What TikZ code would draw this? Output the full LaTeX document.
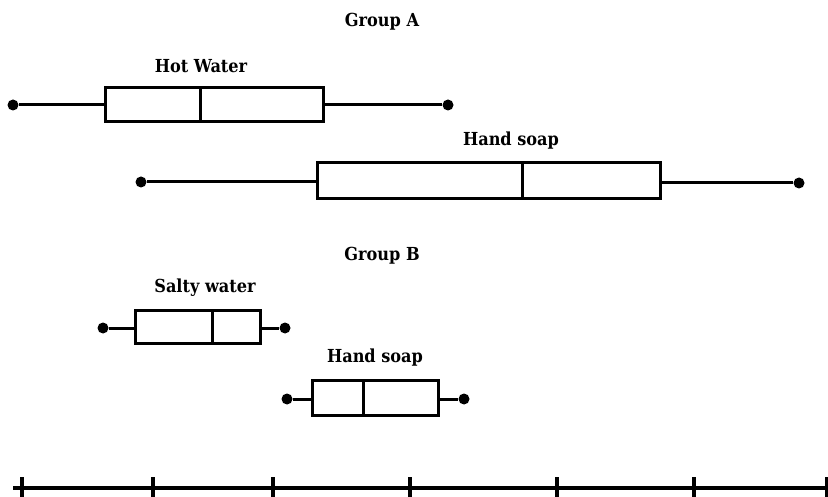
\documentclass[tikz,border=0pt]{standalone}
\usepackage{fontspec}
\setmainfont{DejaVu Serif Condensed}
\begin{document}
\begin{tikzpicture}[x=1bp,y=-1bp,
  lbl/.style={font=\bfseries\fontsize{18}{20}\selectfont, inner sep=0pt},
  bx/.style={draw=black, line width=3bp, fill=white},
  wh/.style={line width=3bp},
  dot/.style={circle, fill=black, inner sep=0pt, minimum size=11bp},
  ax/.style={line width=3.4bp}]
\useasboundingbox (0,0) rectangle (828,497);
% titles
\node[lbl] (ga) at (382,22) {Group A};
\node[lbl] (gb) at (382,256) {Group B};
% Hot Water
\node[lbl] (hwl) at (201,66) {Hot Water};
\node[dot] (hw1) at (13,105) {};
\node[dot] (hw5) at (448,105) {};
\coordinate (hw2) at (105,105);
\coordinate (hw4) at (323,105);
\draw[wh] (hw1) -- (hw2);
\draw[wh] (hw4) -- (hw5);
\draw[bx] (105,88) rectangle (323,122);
\draw[wh] (200,88) -- (200,122);
% Hand soap A
\node[lbl] (hal) at (511,141) {Hand soap};
\node[dot] (ha1) at (141,182) {};
\node[dot] (ha5) at (799,183) {};
\coordinate (ha2) at (317,182);
\coordinate (ha4) at (660,183);
\draw[wh] (ha1) -- (ha2);
\draw[wh] (ha4) -- (ha5);
\draw[bx] (317,163) rectangle (660,199);
\draw[wh] (522,163) -- (522,199);
% Salty water
\node[lbl] (swl) at (205,288) {Salty water};
\node[dot] (sw1) at (103,328) {};
\node[dot] (sw5) at (285,328) {};
\coordinate (sw2) at (135,328);
\coordinate (sw4) at (260,328);
\draw[wh] (sw1) -- (sw2);
\draw[wh] (sw4) -- (sw5);
\draw[bx] (135,310) rectangle (260,343);
\draw[wh] (212,310) -- (212,343);
% Hand soap B
\node[lbl] (hbl) at (375,358) {Hand soap};
\node[dot] (hb1) at (287,399) {};
\node[dot] (hb5) at (464,399) {};
\coordinate (hb2) at (312,399);
\coordinate (hb4) at (438,399);
\draw[wh] (hb1) -- (hb2);
\draw[wh] (hb4) -- (hb5);
\draw[bx] (312,380) rectangle (438,415);
\draw[wh] (363,380) -- (363,415);
% axis
\coordinate (a0) at (13,488);
\coordinate (a1) at (828,488);
\draw[ax] (a0) -- (a1);
\foreach \x in {22,153,273,410,557,694,827}
  \draw[ax] (\x,477) -- (\x,497);
\end{tikzpicture}
\end{document}
